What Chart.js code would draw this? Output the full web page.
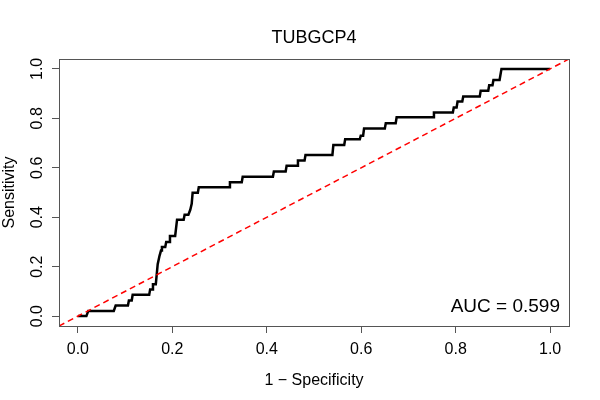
<!DOCTYPE html>
<html>
<head>
<meta charset="utf-8">
<script src="https://cdn.jsdelivr.net/npm/chart.js@4"></script>
<style>
	body { margin: 0; background: #fff; }
</style>
</head>
<body>
<canvas id="chart" width="600" height="400"></canvas>
<script>

// roc curve (1 - specificity, sensitivity)
let fpr = [0, 0.018, 0.022, 0.076, 0.08, 0.106, 0.108, 0.114, 0.116, 0.151, 0.153, 0.157, 0.159, 0.165,
	0.169, 0.173, 0.176, 0.178, 0.185, 0.187, 0.193, 0.195, 0.206, 0.21, 0.224, 0.226, 0.234, 0.238,
	0.241, 0.243, 0.254, 0.256, 0.32, 0.322, 0.347, 0.349, 0.413, 0.415, 0.44, 0.442, 0.464, 0.466,
	0.48, 0.482, 0.539, 0.541, 0.564, 0.566, 0.597, 0.599, 0.604, 0.606, 0.65, 0.652, 0.673, 0.675,
	0.752, 0.754, 0.794, 0.796, 0.802, 0.804, 0.814, 0.816, 0.851, 0.853, 0.869, 0.871, 0.878, 0.88,
	0.893, 0.897, 1.0];
let tpr = [0, 0, 0.021, 0.021, 0.043, 0.043, 0.063, 0.063, 0.086, 0.086, 0.108, 0.108, 0.129, 0.129,
	0.21, 0.245, 0.265, 0.28, 0.28, 0.3, 0.3, 0.324, 0.324, 0.39, 0.39, 0.41, 0.41, 0.43,
	0.454, 0.499, 0.499, 0.521, 0.521, 0.541, 0.541, 0.564, 0.564, 0.585, 0.585, 0.608, 0.608, 0.629,
	0.629, 0.652, 0.652, 0.692, 0.692, 0.715, 0.715, 0.73, 0.73, 0.759, 0.759, 0.78, 0.78, 0.804,
	0.804, 0.824, 0.824, 0.844, 0.844, 0.868, 0.868, 0.888, 0.888, 0.912, 0.912, 0.934, 0.934, 0.955,
	0.955, 1.0, 1.0];

// chance line
let diagX = [-0.04, 1.04];
let diagY = [-0.04, 1.04];

// axes
let tickValues = [0, 0.2, 0.4, 0.6, 0.8, 1.0];
let tickLabels = ['0.0', '0.2', '0.4', '0.6', '0.8', '1.0'];
let title = 'TUBGCP4';
let xTitle = '1 \u2212 Specificity';
let yTitle = 'Sensitivity';
let aucText = 'AUC = 0.599';

const FONT = '"Liberation Sans", Arial, sans-serif';

// box, titles and tick labels like base R
let rPlot = {
	id: 'rPlot',
	afterDraw(chart) {
		let c = chart.ctx;
		let a = chart.chartArea;
		let sx = chart.scales.x;
		let sy = chart.scales.y;
		c.save();

		c.strokeStyle = '#555';
		c.lineWidth = 1;
		c.strokeRect(Math.round(a.left) + 0.5, Math.round(a.top) + 0.5,
			Math.round(a.right - a.left), Math.round(a.bottom - a.top));

		c.fillStyle = '#000';
		c.font = '16px ' + FONT;
		c.textAlign = 'center';
		c.textBaseline = 'alphabetic';
		tickValues.forEach(function(v, i){
			c.fillText(tickLabels[i], sx.getPixelForValue(v), 354);
		});
		tickValues.forEach(function(v, i){
			c.save();
			c.translate(42, sy.getPixelForValue(v));
			c.rotate(-Math.PI / 2);
			c.fillText(tickLabels[i], 0, 0);
			c.restore();
		});

		c.fillText(xTitle, (a.left + a.right) / 2, 385);
		c.save();
		c.translate(14, (a.top + a.bottom) / 2);
		c.rotate(-Math.PI / 2);
		c.fillText(yTitle, 0, 0);
		c.restore();

		c.font = '18px ' + FONT;
		c.fillText(title, (a.left + a.right) / 2, 43);

		c.font = '19px ' + FONT;
		c.textAlign = 'right';
		c.fillText(aucText, 560, 312);

		c.restore();
	}
};

function rTicks(scale){
	scale.ticks = tickValues.map(function(v){ return { value: v }; });
}

let ctx = document.getElementById('chart').getContext('2d');
let chart = new Chart(ctx, {
	type: 'line',
	data: {
		datasets: [{
			data: diagX.map(function(x, i){ return { x: x, y: diagY[i] }; }),
			borderColor: '#ff0000',
			borderWidth: 1.5,
			borderDash: [6, 4],
			pointRadius: 0,
			order: 0
		}, {
			data: fpr.map(function(x, i){ return { x: x, y: tpr[i] }; }),
			borderColor: '#000',
			borderWidth: 2.5,
			pointRadius: 0,
			tension: 0,
			order: 1
		}]
	},
	options: {
		responsive: false,
		animation: false,
		layout: { padding: { top: 59, right: 31, left: 0, bottom: 0 } },
		plugins: { legend: { display: false }, tooltip: { enabled: false } },
		scales: {
			x: {
				type: 'linear', min: -0.04, max: 1.04,
				afterBuildTicks: rTicks,
				afterFit: function(s){ s.height = 74; },
				ticks: { display: false },
				grid: { drawOnChartArea: false, tickLength: 7, tickColor: '#555' },
				border: { color: '#555' }
			},
			y: {
				type: 'linear', min: -0.04, max: 1.04,
				afterBuildTicks: rTicks,
				afterFit: function(s){ s.width = 59; },
				ticks: { display: false },
				grid: { drawOnChartArea: false, tickLength: 7, tickColor: '#555' },
				border: { color: '#555' }
			}
		}
	},
	plugins: [rPlot]
});

</script>
</body>
</html>
